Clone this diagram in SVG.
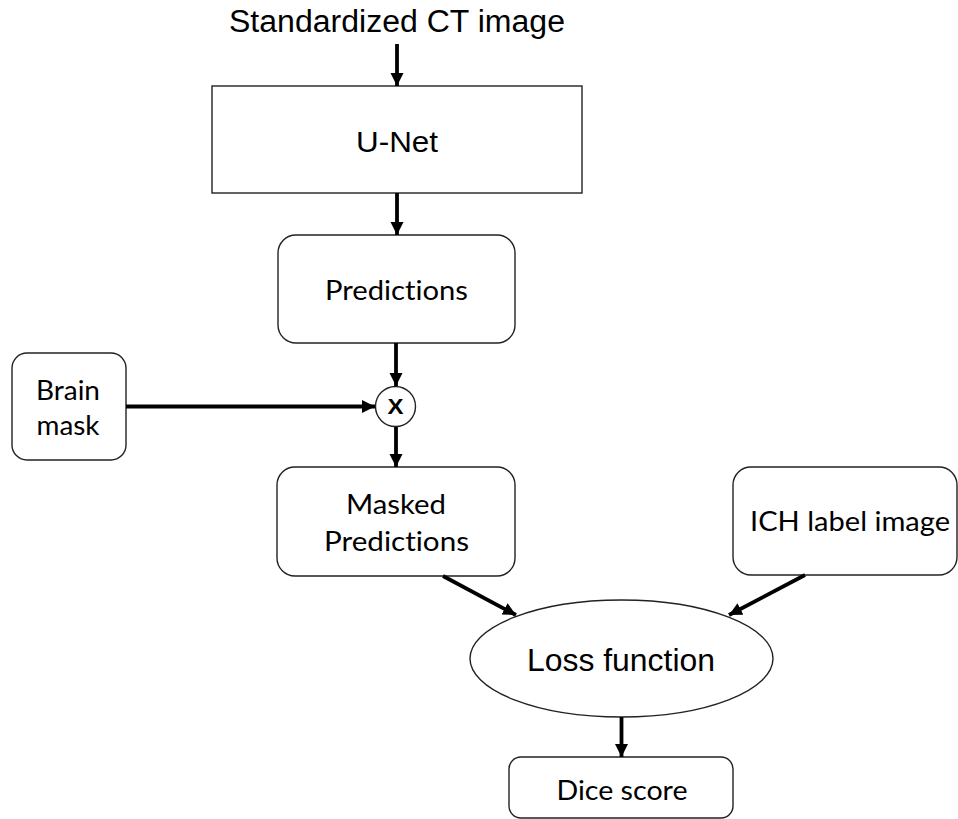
<svg xmlns="http://www.w3.org/2000/svg" width="958" height="819" viewBox="0 0 958 819">
<style>
.box{fill:#fff;stroke:#222;stroke-width:1.4}
.arial{font-family:"Liberation Sans",Arial,sans-serif;fill:#000}
.cal{font-family:Lato,"Open Sans",sans-serif;fill:#000;font-size:27px;font-variant-ligatures:none}
.conn{stroke:#000;stroke-width:3.8;fill:none;marker-end:url(#ah)}
</style>
<defs>
<marker id="ah" markerUnits="userSpaceOnUse" markerWidth="16" markerHeight="14" refX="13" refY="6.5" orient="auto">
<path d="M0,0 L13,6.5 L0,13 z" fill="#000"/>
</marker>
</defs>
<g id="title">
<text class="arial" x="397" y="32" font-size="31" text-anchor="middle" textLength="336" lengthAdjust="spacingAndGlyphs">Standardized CT image</text>
</g>
<g id="unet">
<rect class="box" x="212" y="86" width="370" height="107"/>
<text class="arial" x="397" y="152" font-size="30" text-anchor="middle" textLength="82" lengthAdjust="spacingAndGlyphs">U-Net</text>
</g>
<g id="predictions">
<rect class="box" x="278" y="235" width="237" height="108" rx="18"/>
<text class="cal" x="396.5" y="300" text-anchor="middle" textLength="143" lengthAdjust="spacingAndGlyphs">Predictions</text>
</g>
<g id="brainmask">
<rect class="box" x="12" y="353" width="114" height="107" rx="15"/>
<text class="cal" x="68" y="400" text-anchor="middle" textLength="64" lengthAdjust="spacingAndGlyphs">Brain</text>
<text class="cal" x="68" y="435" text-anchor="middle" textLength="63" lengthAdjust="spacingAndGlyphs">mask</text>
</g>
<g id="multiply">
<circle class="box" cx="395.5" cy="406.5" r="20"/>
<text class="arial" x="395.5" y="414" font-size="22" font-weight="bold" text-anchor="middle" textLength="16" lengthAdjust="spacingAndGlyphs">X</text>
</g>
<g id="masked">
<rect class="box" x="277" y="467" width="238" height="109" rx="18"/>
<text class="cal" x="396" y="514" text-anchor="middle" textLength="100" lengthAdjust="spacingAndGlyphs">Masked</text>
<text class="cal" x="396.5" y="551" text-anchor="middle" textLength="145" lengthAdjust="spacingAndGlyphs">Predictions</text>
</g>
<g id="ichlabel">
<rect class="box" x="733" y="467" width="224" height="108" rx="18"/>
<text class="cal" x="850" y="531" text-anchor="middle" textLength="200" lengthAdjust="spacingAndGlyphs">ICH label image</text>
</g>
<g id="loss">
<ellipse class="box" cx="621.5" cy="658.5" rx="151.5" ry="58.5"/>
<text class="arial" x="621" y="671" font-size="31" text-anchor="middle" textLength="188" lengthAdjust="spacingAndGlyphs">Loss function</text>
</g>
<g id="dice">
<rect class="box" x="509" y="757" width="224" height="61" rx="12"/>
<text class="cal" x="622" y="800" text-anchor="middle" textLength="131" lengthAdjust="spacingAndGlyphs">Dice score</text>
</g>
<g id="connectors">
<line class="conn" x1="397" y1="44" x2="397" y2="86"/>
<line class="conn" x1="397" y1="193" x2="397" y2="235"/>
<line class="conn" x1="396" y1="343" x2="396" y2="386"/>
<line class="conn" x1="126" y1="406.5" x2="375" y2="406.5"/>
<line class="conn" x1="396" y1="427" x2="396" y2="467"/>
<line class="conn" x1="443" y1="576" x2="516" y2="615"/>
<line class="conn" x1="805" y1="575" x2="729" y2="615"/>
<line class="conn" x1="621.5" y1="717" x2="621.5" y2="757"/>
</g>
</svg>
